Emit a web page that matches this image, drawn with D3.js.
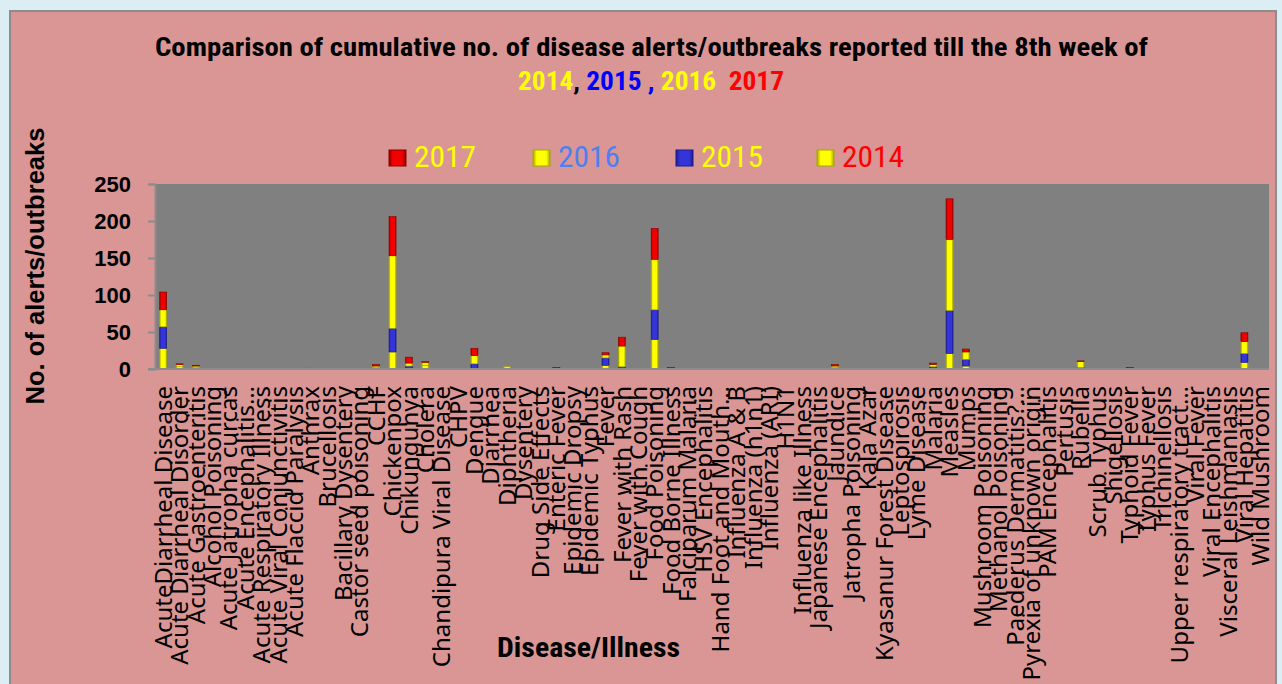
<!DOCTYPE html>
<html>
<head>
<meta charset="utf-8">
<script src="https://cdn.jsdelivr.net/npm/d3@7"></script>
<style>
  body { margin: 0; background: #daeef3; }
  svg { display: block; }
</style>
</head>
<body>
<div id="chart"></div>
<script>
// categories on the x axis
const diseases = [
  "AcuteDiarrheal Disease", "Acute Diarrheal Disorder", "Acute Gastroenteritis", "Alcohol Poisoning",
  "Acute Jatropha curcas", "Acute Encephalitis…", "Acute Respiratory Illness", "Acute Viral Conjunctivitis",
  "Acute Flaccid Paralysis", "Anthrax", "Brucellosis", "Bacillary Dysentery", "Castor seed poisoning",
  "CCHF", "Chickenpox", "Chikungunya", "Cholera", "Chandipura Viral Disease", "CHPV", "Dengue",
  "Diarrhea", "Diphtheria", "Dysentery", "Drug Side Effects", "Enteric Fever", "Epidemic Dropsy",
  "Epidemic Typhus", "Fever", "Fever with Rash", "Fever with Cough", "Food Poisoning",
  "Food Borne Illness", "Falciparum Malaria", "HSV Encephalitis", "Hand Foot and Mouth…",
  "Influenza A & B", "Influenza (h1n1)", "Influenza (ARI)", "H1N1", "Influenza like Illness",
  "Japanese Encephalitis", "Jaundice", "Jatropha Poisoning", "Kala Azar", "Kyasanur Forest Disease",
  "Leptospirosis", "Lyme Disease", "Malaria", "Measles", "Mumps", "Mushroom Poisoning",
  "Methanol Poisoning", "Paederus Dermatitis?…", "Pyrexia of unknown origin", "PAM Encephalitis",
  "Pertusis", "Rubella", "Scrub Typhus", "Shigellosis", "Typhoid Fever", "Typhus Fever",
  "Trichinellosis", "Upper respiratory tract…", "Viral Fever", "Viral Encephalitis",
  "Visceral Leishmaniasis", "Viral Hepatitis", "Wild Mushroom"
];

// values per year, same order as diseases
const y2014 = [28,3,2,0,0,0,0,0,0,0,0,0,0,2,23,0,5,0,0,0,0,1,0,0,0,0,0,5,0,0,40,0,0,0,0,0,0,0,0,0,0,2,0,0,0,0,0,0,21,4,0,0,0,0,0,0,0,0,0,0,0,0,0,0,0,0,9,0];
const y2015 = [29,0,0,0,0,0,0,0,0,0,0,0,0,0,32,4,0,0,0,7,0,0,0,0,0,0,0,10,3,0,40,0,0,0,0,0,0,0,0,0,0,0,0,0,0,0,0,3,58,9,0,0,0,0,0,0,2,0,0,0,0,0,0,0,0,0,12,0];
const y2016 = [23,3,2,0,0,0,0,0,0,0,0,0,0,2,98,4,4,0,0,11,0,2,0,0,1,0,0,4,28,0,68,0,0,0,0,0,0,0,0,0,0,2,0,0,0,0,0,3,96,10,0,0,0,0,0,0,8,0,0,0,0,0,0,0,0,0,16,0];
const y2017 = [24,1,1,0,0,0,0,0,0,1,0,0,0,2,53,8,1,0,0,10,0,0,0,0,1,0,0,3,12,0,42,2,0,0,0,0,0,0,0,0,0,2,0,0,0,0,0,2,55,4,0,0,0,0,0,0,1,0,0,2,0,0,0,0,0,0,12,0];

const years = ["2014", "2015", "2016", "2017"];
const yTicks = [0, 50, 100, 150, 200, 250];

const W = 1282, H = 684;
const plot = { left: 155, right: 1269, top: 184, bottom: 369 };

const svg = d3.select("#chart").append("svg")
  .attr("width", W).attr("height", H);

// gradients for the bevelled bars
const defs = svg.append("defs");
const barColors = {
  "2014": ["#a8a800", "#ffff00"],
  "2015": ["#1c1c8c", "#3434d8"],
  "2016": ["#a8a800", "#ffff00"],
  "2017": ["#8c0000", "#f00000"]
};
years.forEach(k => {
  const g = defs.append("linearGradient").attr("id", "g" + k)
    .attr("x1", 0).attr("x2", 1).attr("y1", 0).attr("y2", 0);
  g.append("stop").attr("offset", "0%").attr("stop-color", barColors[k][0]);
  g.append("stop").attr("offset", "22%").attr("stop-color", barColors[k][1]);
  g.append("stop").attr("offset", "78%").attr("stop-color", barColors[k][1]);
  g.append("stop").attr("offset", "100%").attr("stop-color", barColors[k][0]);
});

// chart background
svg.append("rect")
  .attr("x", 10).attr("y", 11).attr("width", 1266).attr("height", 690)
  .attr("fill", "#d99694").attr("stroke", "#8c8c8c").attr("stroke-width", 2);

// title
const condensed = "'Liberation Sans Narrow', 'Roboto Condensed', 'Arial Narrow', sans-serif";
svg.append("text")
  .attr("x", 155).attr("y", 56)
  .attr("textLength", 993).attr("lengthAdjust", "spacingAndGlyphs")
  .style("font-family", condensed).style("font-weight", "bold").style("font-size", "25px")
  .text("Comparison of cumulative no. of disease alerts/outbreaks reported till the 8th week of");

const t2 = svg.append("text")
  .attr("x", 518).attr("y", 90)
  .attr("textLength", 266).attr("lengthAdjust", "spacingAndGlyphs")
  .style("font-family", condensed).style("font-weight", "bold").style("font-size", "25px");
[["2014", "#ffff00"], [", ", "#000"], ["2015", "#0000ff"], [" , ", "#0000ff"],
 ["2016", "#ffff00"], ["  ", "#000"], ["2017", "#ff0000"]].forEach(p => {
  t2.append("tspan").attr("fill", p[1]).style("white-space", "pre").text(p[0]);
});

// legend
const legendItems = [
  { key: "2017", x: 389, text: "#ffff00" },
  { key: "2016", x: 533, text: "#4f7ff0" },
  { key: "2015", x: 676, text: "#ffff00" },
  { key: "2014", x: 817, text: "#ff0000" }
];
const lg = svg.append("g").selectAll("g").data(legendItems).join("g");
lg.append("rect")
  .attr("x", d => d.x).attr("y", 150).attr("width", 17).attr("height", 16)
  .attr("fill", d => "url(#g" + d.key + ")")
  .attr("stroke", d => barColors[d.key][0]).attr("stroke-width", 1);
lg.append("text")
  .attr("x", d => d.x + 25).attr("y", 167)
  .attr("textLength", 62).attr("lengthAdjust", "spacingAndGlyphs")
  .attr("fill", d => d.text)
  .style("font-family", condensed).style("font-size", "30px")
  .text(d => d.key);

// scales
const x = d3.scaleBand().domain(diseases)
  .range([plot.left, plot.right]).paddingInner(0.57).paddingOuter(0.285);
const y = d3.scaleLinear().domain([0, 250]).range([plot.bottom, plot.top]);

// plot area
svg.append("rect")
  .attr("x", plot.left).attr("y", plot.top)
  .attr("width", plot.right - plot.left).attr("height", plot.bottom - plot.top)
  .attr("fill", "#808080");

// stacked data
const table = diseases.map((d, i) => ({
  name: d, "2014": y2014[i], "2015": y2015[i], "2016": y2016[i], "2017": y2017[i]
}));
const series = d3.stack().keys(years)(table);

svg.append("g").selectAll("g").data(series).join("g")
  .attr("fill", s => "url(#g" + s.key + ")")
  .attr("stroke", s => barColors[s.key][0])
  .attr("stroke-width", 0.6)
  .selectAll("rect").data(s => s.filter(d => d[1] - d[0] > 0)).join("rect")
  .attr("x", d => x(d.data.name))
  .attr("y", d => y(d[1]))
  .attr("width", x.bandwidth())
  .attr("height", d => y(d[0]) - y(d[1]));

// y axis
const yAxis = svg.append("g")
  .attr("transform", `translate(${plot.left},0)`)
  .call(d3.axisLeft(y).tickValues(yTicks).tickSize(7).tickPadding(17));
yAxis.select(".domain").attr("stroke", "#8c8c8c").attr("stroke-width", 2);
yAxis.selectAll(".tick line").attr("stroke", "#8c8c8c").attr("stroke-width", 2);
yAxis.selectAll(".tick text")
  .attr("fill", "#000")
  .style("font-family", "'Liberation Sans', Arial, sans-serif")
  .style("font-weight", "bold").style("font-size", "22px");

// x axis
const xAxis = svg.append("g")
  .attr("transform", `translate(0,${plot.bottom})`)
  .call(d3.axisBottom(x).tickSize(0).tickPadding(0));
xAxis.select(".domain").attr("stroke", "#8c8c8c").attr("stroke-width", 2)
  .attr("d", `M${plot.left - 7},0H${plot.right}`);
xAxis.selectAll(".tick text")
  .attr("transform", "translate(0,17) rotate(-90)")
  .attr("x", 0).attr("y", 0).attr("dy", "0.36em")
  .attr("text-anchor", "end")
  .attr("fill", "#000")
  .style("font-family", "'Noto Sans', 'Open Sans', sans-serif")
  .style("font-size", "24px");

// axis titles
svg.append("text")
  .attr("transform", "translate(44,266) rotate(-90)")
  .attr("text-anchor", "middle")
  .attr("textLength", 277).attr("lengthAdjust", "spacingAndGlyphs")
  .style("font-family", "'Liberation Sans', Arial, sans-serif")
  .style("font-weight", "bold").style("font-size", "25px")
  .text("No. of alerts/outbreaks");

svg.append("text")
  .attr("x", 497).attr("y", 657)
  .attr("textLength", 183).attr("lengthAdjust", "spacingAndGlyphs")
  .style("font-family", condensed).style("font-weight", "bold").style("font-size", "28px")
  .text("Disease/Illness");
</script>
</body>
</html>
